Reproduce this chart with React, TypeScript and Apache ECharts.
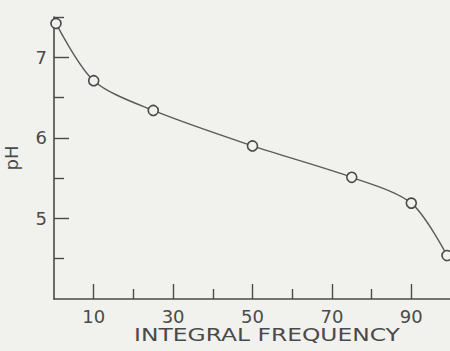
import React, { useEffect, useRef } from "react";
import * as echarts from "echarts";

const frequency = [0.5, 10, 25, 50, 75, 90, 99];
const phValues = [7.42, 6.71, 6.34, 5.9, 5.51, 5.19, 4.54];
const xMajorTicks = [10, 30, 50, 70, 90];
const xMinorTicks = [20, 40, 60, 80];
const yMajorTicks = [5, 6, 7];
const yMinorTicks = [4.5, 5.5, 6.5, 7.5];
const xTitle = "INTEGRAL FREQUENCY";
const yTitle = "pH";

const ink = "#4a4a4a";
const paper = "#f1f1ed";
const font = "DejaVu Sans";

export default function App() {
  const ref = useRef<HTMLDivElement>(null);
  useEffect(() => {
    if (!ref.current) return;
    const chart = echarts.init(ref.current, null, { renderer: "svg" });
    const points = frequency.map((f, i) => [f, phValues[i]]);
    chart.setOption({
      animation: false,
      backgroundColor: paper,
      grid: { left: 54, top: 17, width: 397, height: 282, containLabel: false, outerBoundsMode: "none" },
      xAxis: [
        {
          type: "value",
          min: 0,
          max: 100,
          position: "bottom",
          axisLine: { show: true, lineStyle: { color: ink, width: 1.6 } },
          axisTick: { show: true, inside: true, length: 15, customValues: xMajorTicks, lineStyle: { color: ink, width: 1.4 } },
          axisLabel: { show: true, customValues: xMajorTicks, margin: 8, color: ink, fontFamily: font, fontSize: 18 },
          splitLine: { show: false },
        },
        {
          type: "value",
          min: 0,
          max: 100,
          position: "bottom",
          axisLine: { show: false },
          axisTick: { show: true, inside: true, length: 10, customValues: xMinorTicks, lineStyle: { color: ink, width: 1.4 } },
          axisLabel: { show: false },
          splitLine: { show: false },
        },
      ],
      yAxis: [
        {
          type: "value",
          min: 4,
          max: 7.5,
          position: "left",
          name: yTitle,
          nameLocation: "middle",
          nameRotate: 90,
          nameGap: 34,
          nameTextStyle: { color: ink, fontFamily: font, fontSize: 18 },
          axisLine: { show: true, lineStyle: { color: ink, width: 1.6 } },
          axisTick: { show: true, inside: true, length: 15, customValues: yMajorTicks, lineStyle: { color: ink, width: 1.4 } },
          axisLabel: { show: true, customValues: yMajorTicks, margin: 7, color: ink, fontFamily: font, fontSize: 18 },
          splitLine: { show: false },
        },
        {
          type: "value",
          min: 4,
          max: 7.5,
          position: "left",
          axisLine: { show: false },
          axisTick: { show: true, inside: true, length: 10, customValues: yMinorTicks, lineStyle: { color: ink, width: 1.4 } },
          axisLabel: { show: false },
          splitLine: { show: false },
        },
      ],
      graphic: [
        {
          type: "text",
          x: 267,
          y: 335,
          scaleX: 1.3,
          style: {
            text: xTitle,
            fill: ink,
            font: `18px ${font}`,
            align: "center",
            verticalAlign: "middle",
          },
        },
      ],
      series: [
        {
          type: "line",
          data: points,
          xAxisIndex: 0,
          yAxisIndex: 0,
          smooth: 0.3,
          symbol: "circle",
          symbolSize: 10,
          lineStyle: { color: "#5a5a5a", width: 1.4 },
          itemStyle: { color: paper, borderColor: ink, borderWidth: 1.6 },
          clip: false,
        },
      ],
    });
    return () => chart.dispose();
  }, []);
  return <div ref={ref} style={{ position: "fixed", left: 0, top: 0, width: 450, height: 351 }} />;
}
